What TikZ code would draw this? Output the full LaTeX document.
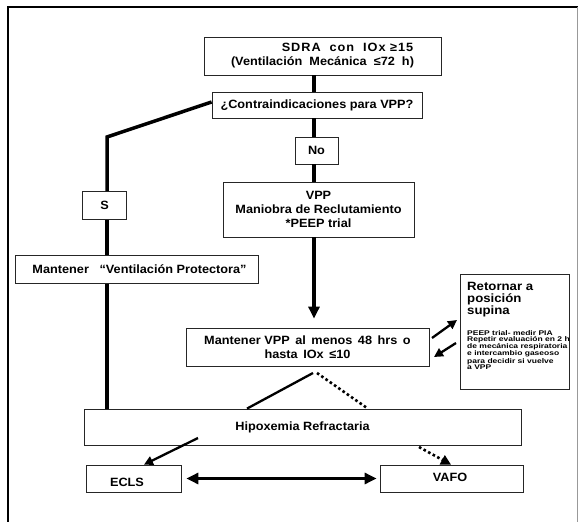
\documentclass[tikz,border=0pt]{standalone}
\usepackage{fontspec}
\setmainfont{Liberation Sans}[FakeStretch=1.06]
\newfontfamily\spacedfont{Liberation Sans}[FakeStretch=1.06,LetterSpace=8]
\newfontfamily\retfont{Liberation Sans}[FakeStretch=1.1]
\newfontfamily\tinyfont{Liberation Sans}[FakeStretch=1.25]
\usetikzlibrary{arrows.meta}
\tikzset{
  box/.style={draw=black!85, line width=0.8pt, fill=white, inner sep=0pt, align=center,
    font=\fontsize{12}{14}\selectfont\bfseries},
  trunk/.style={line width=3.5pt},
  thinline/.style={line width=2.3pt},
  dotline/.style={line width=2.6pt, dash pattern=on 2.6pt off 2.6pt},
  bighead/.style={-{Triangle[length=12pt,width=11pt]}},
  midhead/.style={-{Triangle[length=9pt,width=9pt]}},
}
\begin{document}
\begin{tikzpicture}[x=1pt,y=-1pt]
\useasboundingbox (0,0) rectangle (579,522);
% frame
\draw[line width=2.2pt] (8.3,522) -- (8.3,7.3) -- (578,7.3);
\draw[black!40, line width=1pt] (577.5,7.3) -- (577.5,522);

% nodes
\node[box, minimum width=237pt, minimum height=38pt] (sdra) at (322.5,56)
  {\spacedfont\bfseries\fontsize{12}{16}\selectfont\hspace*{50pt}SDRA\ \ con\ \ IOx ≥15\\(Ventilación\ \ Mecánica\ \ ≤72\ \ h)};
\node[box, minimum width=210pt, minimum height=26pt] (contra) at (317,105) {¿Contraindicaciones para VPP?};
\node[box, minimum width=43pt, minimum height=27pt] (no) at (316.5,150.5) {No};
\node[box, minimum width=191pt, minimum height=55pt] (vpp) at (318.5,209.5)
  {\fontsize{12}{13.5}\selectfont\bfseries VPP\\Maniobra de Reclutamiento\\*PEEP trial};
\node[box, minimum width=44pt, minimum height=28pt] (s) at (104.5,205.5) {S};
\node[box, minimum width=243pt, minimum height=28pt] (mvp) at (136.5,269.5) {\hspace*{6pt}Mantener\ \ \ “Ventilación Protectora”};
\node[box, minimum width=243pt, minimum height=38pt] (mvpp) at (307.5,347)
  {\fontsize{12}{14}\selectfont\bfseries Mantener\ VPP\ \,al\ \,menos\ \,48\ \,hrs\ \,o\\hasta\ \,IOx\ \,≤10};
\node[box, minimum width=109pt, minimum height=115pt] (ret) at (514.5,331.5) {};
\node[anchor=north west, inner sep=0pt, align=left, font=\retfont\bfseries\fontsize{12}{12}\selectfont] (rettitle) at (467,282)
  {Retornar a\\posición\\supina};
\node[anchor=north west, inner sep=0pt, align=left, font=\tinyfont\bfseries\fontsize{6.8}{6.1}\selectfont] (rettext) at (467,330)
  {PEEP trial- medir PIA\\Repetir evaluación en 2 h\\de mecánica respiratoria\\e intercambio gaseoso\\para decidir si vuelve\\a VPP};
\node[box, minimum width=437pt, minimum height=36pt] (hip) at (302.5,427) {Hipoxemia Refractaria};
\node[box, minimum width=95pt, minimum height=27pt] (ecls) at (133.5,478.5) {};
\node[font=\bfseries\fontsize{12}{14}\selectfont, inner sep=0pt] (eclstext) at (127,482) {ECLS};
\node[box, minimum width=143pt, minimum height=27pt] (vafo) at (451.5,478.5) {};
\node[font=\bfseries\fontsize{12}{14}\selectfont, inner sep=0pt] (vafotext) at (450,477) {VAFO};

% coordinates
\coordinate (spine) at (314,0);
\coordinate (lcorner) at (107,137);
\coordinate (apex) at (315,373);

% main trunk
\draw[trunk] (sdra.south -| spine) -- (contra.north -| spine);
\draw[trunk] (contra.south -| spine) -- (no.north -| spine);
\draw[trunk] (no.south -| spine) -- (vpp.north -| spine);
\draw[trunk, bighead, shorten >=9pt] (vpp.south -| spine) -- (mvpp.north -| spine);

% left branch
\draw[trunk, line join=miter] ([yshift=3pt]contra.west) -- (lcorner) -- (s.north -| lcorner);
\draw[trunk] (s.south -| lcorner) -- (mvp.north -| lcorner);
\draw[trunk] (mvp.south -| lcorner) -- (hip.north -| lcorner);

% V under mvpp
\draw[thinline] ([xshift=-2pt]apex) -- (hip.north -| 247,0);
\draw[dotline] ([xshift=2pt]apex) -- (367,408);

% retornar arrows
\coordinate (r1a) at (432,338); \coordinate (r1b) at (457,320);
\coordinate (r2a) at (456,343); \coordinate (r2b) at (434,357);
\draw[thinline, midhead] (r1a) -- (r1b);
\draw[thinline, midhead] (r2a) -- (r2b);

% to ECLS / VAFO
\coordinate (e1) at (198,438);
\coordinate (v1) at (419,447);
\draw[thinline, midhead] (e1) -- (ecls.north -| 144,0);
\draw[dotline, -{Triangle[length=10pt,width=10pt]}] (v1) -- (vafo.north -| 451,0);
\draw[trunk, {Triangle[length=12pt,width=11pt]}-{Triangle[length=12pt,width=11pt]}] ([xshift=5pt]ecls.east) -- ([xshift=-3pt]vafo.west);
\end{tikzpicture}
\end{document}
